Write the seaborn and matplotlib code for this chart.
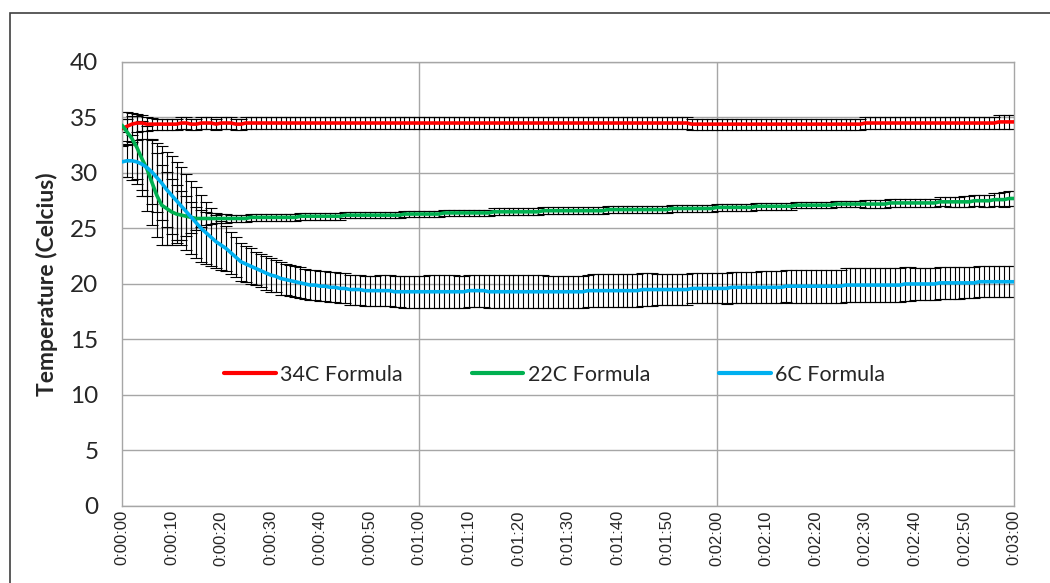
import matplotlib
matplotlib.use('Agg')
import pandas as pd
import matplotlib.pyplot as plt
import matplotlib.patches as mpatches
import seaborn as sns

# --- Data (one value per second) ---
seconds = list(range(0, 181))
tick_seconds = list(range(0, 181, 10))
tick_labels = ['0:00:00', '0:00:10', '0:00:20', '0:00:30', '0:00:40', '0:00:50',
               '0:01:00', '0:01:10', '0:01:20', '0:01:30', '0:01:40', '0:01:50',
               '0:02:00', '0:02:10', '0:02:20', '0:02:30', '0:02:40', '0:02:50',
               '0:03:00']
series_names = ['34C Formula', '22C Formula', '6C Formula']
series_colors = ['#FF0000', '#00B050', '#00B0F0']

temp_34c = [
    34.0, 34.2, 34.4, 34.5, 34.5, 34.4, 34.4, 34.4, 34.4, 34.4,
    34.4, 34.4, 34.5, 34.5, 34.4, 34.4, 34.5, 34.5, 34.5, 34.4,
    34.5, 34.5, 34.5, 34.4, 34.4, 34.5, 34.5, 34.5, 34.5, 34.5,
    34.5, 34.5, 34.5, 34.5, 34.5, 34.5, 34.5, 34.5, 34.5, 34.5,
    34.5, 34.5, 34.5, 34.5, 34.5, 34.5, 34.5, 34.5, 34.5, 34.5,
    34.5, 34.5, 34.5, 34.5, 34.5, 34.5, 34.5, 34.5, 34.5, 34.5,
    34.5, 34.5, 34.5, 34.5, 34.5, 34.5, 34.5, 34.5, 34.5, 34.5,
    34.5, 34.5, 34.5, 34.5, 34.5, 34.5, 34.5, 34.5, 34.5, 34.5,
    34.5, 34.5, 34.5, 34.5, 34.5, 34.5, 34.5, 34.5, 34.5, 34.5,
    34.5, 34.5, 34.5, 34.5, 34.5, 34.5, 34.5, 34.5, 34.5, 34.5,
    34.5, 34.5, 34.5, 34.5, 34.5, 34.5, 34.5, 34.5, 34.5, 34.5,
    34.5, 34.5, 34.5, 34.5, 34.5, 34.4, 34.4, 34.4, 34.4, 34.4,
    34.4, 34.4, 34.4, 34.4, 34.4, 34.4, 34.4, 34.4, 34.4, 34.4,
    34.4, 34.4, 34.4, 34.4, 34.4, 34.4, 34.4, 34.4, 34.4, 34.4,
    34.4, 34.4, 34.4, 34.4, 34.4, 34.4, 34.4, 34.4, 34.4, 34.4,
    34.5, 34.5, 34.5, 34.5, 34.5, 34.5, 34.5, 34.5, 34.5, 34.5,
    34.5, 34.5, 34.5, 34.5, 34.5, 34.5, 34.5, 34.5, 34.5, 34.5,
    34.5, 34.5, 34.5, 34.5, 34.5, 34.5, 34.5, 34.6, 34.6, 34.6,
    34.6]
err_34c = [
    1.5, 1.3, 1.0, 0.8, 0.7, 0.6, 0.55, 0.5, 0.5, 0.5,
    0.5, 0.5, 0.5, 0.5, 0.5, 0.5, 0.5, 0.5, 0.5, 0.5,
    0.5, 0.5, 0.5, 0.5, 0.5, 0.5, 0.5, 0.5, 0.5, 0.5,
    0.5, 0.5, 0.5, 0.5, 0.5, 0.5, 0.5, 0.5, 0.5, 0.5,
    0.5, 0.5, 0.5, 0.5, 0.5, 0.5, 0.5, 0.5, 0.5, 0.5,
    0.5, 0.5, 0.5, 0.5, 0.5, 0.5, 0.5, 0.5, 0.5, 0.5,
    0.5, 0.5, 0.5, 0.5, 0.5, 0.5, 0.5, 0.5, 0.5, 0.5,
    0.5, 0.5, 0.5, 0.5, 0.5, 0.5, 0.5, 0.5, 0.5, 0.5,
    0.5, 0.5, 0.5, 0.5, 0.5, 0.5, 0.5, 0.5, 0.5, 0.5,
    0.5, 0.5, 0.5, 0.5, 0.5, 0.5, 0.5, 0.5, 0.5, 0.5,
    0.5, 0.5, 0.5, 0.5, 0.5, 0.5, 0.5, 0.5, 0.5, 0.5,
    0.5, 0.5, 0.5, 0.5, 0.5, 0.5, 0.5, 0.5, 0.5, 0.5,
    0.5, 0.5, 0.5, 0.5, 0.5, 0.5, 0.5, 0.5, 0.5, 0.5,
    0.5, 0.5, 0.5, 0.5, 0.5, 0.5, 0.5, 0.5, 0.5, 0.5,
    0.5, 0.5, 0.5, 0.5, 0.5, 0.5, 0.5, 0.5, 0.5, 0.5,
    0.5, 0.5, 0.5, 0.5, 0.5, 0.5, 0.5, 0.5, 0.5, 0.5,
    0.5, 0.5, 0.5, 0.5, 0.5, 0.5, 0.5, 0.5, 0.5, 0.5,
    0.5, 0.5, 0.5, 0.5, 0.5, 0.55, 0.55, 0.6, 0.6, 0.6,
    0.6]

temp_22c = [
    34.3, 33.7, 33.1, 32.3, 31.3, 30.4, 29.2, 28.0, 27.1, 26.8,
    26.5, 26.3, 26.2, 26.1, 26.0, 25.9, 25.9, 25.9, 25.9, 25.9,
    25.9, 25.9, 25.9, 25.9, 25.9, 25.9, 26.0, 26.0, 26.0, 26.0,
    26.0, 26.0, 26.0, 26.0, 26.0, 26.0, 26.1, 26.1, 26.1, 26.1,
    26.1, 26.1, 26.1, 26.1, 26.1, 26.2, 26.2, 26.2, 26.2, 26.2,
    26.2, 26.2, 26.2, 26.2, 26.2, 26.2, 26.2, 26.3, 26.3, 26.3,
    26.3, 26.3, 26.3, 26.3, 26.3, 26.4, 26.4, 26.4, 26.4, 26.4,
    26.4, 26.4, 26.4, 26.4, 26.4, 26.5, 26.5, 26.5, 26.5, 26.5,
    26.5, 26.5, 26.5, 26.5, 26.5, 26.6, 26.6, 26.6, 26.6, 26.6,
    26.6, 26.6, 26.6, 26.6, 26.6, 26.6, 26.6, 26.6, 26.7, 26.7,
    26.7, 26.7, 26.7, 26.7, 26.7, 26.7, 26.7, 26.7, 26.7, 26.7,
    26.7, 26.8, 26.8, 26.8, 26.8, 26.8, 26.8, 26.8, 26.8, 26.8,
    26.9, 26.9, 26.9, 26.9, 26.9, 26.9, 26.9, 26.9, 27.0, 27.0,
    27.0, 27.0, 27.0, 27.0, 27.0, 27.0, 27.1, 27.1, 27.1, 27.1,
    27.1, 27.1, 27.1, 27.1, 27.2, 27.2, 27.2, 27.2, 27.2, 27.2,
    27.2, 27.2, 27.2, 27.2, 27.2, 27.3, 27.3, 27.3, 27.3, 27.3,
    27.3, 27.3, 27.3, 27.3, 27.3, 27.4, 27.4, 27.4, 27.4, 27.4,
    27.4, 27.4, 27.5, 27.5, 27.5, 27.5, 27.6, 27.6, 27.6, 27.7,
    27.7]
err_22c = [
    0.6, 1.2, 2.0, 2.8, 3.4, 3.8, 3.9, 3.8, 3.6, 3.3,
    3.0, 2.6, 2.2, 1.8, 1.4, 1.0, 0.8, 0.6, 0.5, 0.45,
    0.4, 0.4, 0.35, 0.35, 0.35, 0.35, 0.3, 0.3, 0.3, 0.3,
    0.3, 0.3, 0.3, 0.3, 0.3, 0.3, 0.3, 0.3, 0.3, 0.3,
    0.3, 0.3, 0.3, 0.3, 0.3, 0.3, 0.3, 0.3, 0.3, 0.3,
    0.3, 0.3, 0.3, 0.3, 0.3, 0.3, 0.3, 0.3, 0.3, 0.3,
    0.3, 0.3, 0.3, 0.3, 0.3, 0.3, 0.3, 0.3, 0.3, 0.3,
    0.3, 0.3, 0.3, 0.3, 0.3, 0.3, 0.3, 0.3, 0.3, 0.3,
    0.3, 0.3, 0.3, 0.3, 0.3, 0.3, 0.3, 0.3, 0.3, 0.3,
    0.3, 0.3, 0.3, 0.3, 0.3, 0.3, 0.3, 0.3, 0.3, 0.3,
    0.3, 0.3, 0.3, 0.3, 0.3, 0.3, 0.3, 0.3, 0.3, 0.3,
    0.3, 0.3, 0.3, 0.3, 0.3, 0.3, 0.3, 0.3, 0.3, 0.3,
    0.3, 0.3, 0.3, 0.3, 0.3, 0.3, 0.3, 0.3, 0.3, 0.3,
    0.3, 0.3, 0.3, 0.3, 0.3, 0.3, 0.3, 0.3, 0.3, 0.3,
    0.3, 0.3, 0.3, 0.3, 0.3, 0.3, 0.3, 0.3, 0.3, 0.3,
    0.35, 0.35, 0.35, 0.35, 0.35, 0.35, 0.35, 0.35, 0.35, 0.35,
    0.4, 0.4, 0.4, 0.4, 0.4, 0.4, 0.4, 0.45, 0.45, 0.45,
    0.5, 0.5, 0.5, 0.5, 0.55, 0.55, 0.6, 0.6, 0.65, 0.7,
    0.7]

temp_6c = [
    31.0, 31.1, 31.1, 31.0, 30.8, 30.5, 30.1, 29.6, 29.1, 28.5,
    28.0, 27.5, 27.0, 26.5, 26.0, 25.5, 25.0, 24.6, 24.2, 23.8,
    23.5, 23.2, 22.8, 22.4, 22.0, 21.8, 21.6, 21.4, 21.2, 21.0,
    20.8, 20.7, 20.5, 20.4, 20.3, 20.2, 20.1, 20.0, 19.9, 19.9,
    19.8, 19.8, 19.7, 19.7, 19.6, 19.6, 19.5, 19.5, 19.5, 19.4,
    19.4, 19.4, 19.4, 19.4, 19.4, 19.3, 19.3, 19.3, 19.3, 19.3,
    19.3, 19.3, 19.3, 19.3, 19.3, 19.3, 19.3, 19.3, 19.3, 19.3,
    19.4, 19.4, 19.4, 19.4, 19.3, 19.3, 19.3, 19.3, 19.3, 19.3,
    19.3, 19.3, 19.3, 19.3, 19.3, 19.3, 19.3, 19.3, 19.3, 19.3,
    19.3, 19.3, 19.3, 19.3, 19.4, 19.4, 19.4, 19.4, 19.4, 19.4,
    19.4, 19.4, 19.4, 19.4, 19.4, 19.5, 19.5, 19.5, 19.5, 19.5,
    19.5, 19.5, 19.5, 19.5, 19.5, 19.6, 19.6, 19.6, 19.6, 19.6,
    19.6, 19.6, 19.6, 19.7, 19.7, 19.7, 19.7, 19.7, 19.7, 19.7,
    19.7, 19.7, 19.7, 19.7, 19.8, 19.8, 19.8, 19.8, 19.8, 19.8,
    19.8, 19.8, 19.8, 19.8, 19.8, 19.8, 19.9, 19.9, 19.9, 19.9,
    19.9, 19.9, 19.9, 19.9, 19.9, 19.9, 19.9, 19.9, 20.0, 20.0,
    20.0, 20.0, 20.0, 20.0, 20.0, 20.1, 20.1, 20.1, 20.1, 20.1,
    20.1, 20.1, 20.1, 20.2, 20.2, 20.2, 20.2, 20.2, 20.2, 20.2,
    20.2]
err_6c = [
    1.4, 1.5, 1.7, 2.0, 2.3, 2.6, 2.9, 3.1, 3.3, 3.4,
    3.5, 3.5, 3.5, 3.4, 3.3, 3.2, 3.0, 2.8, 2.6, 2.4,
    2.2, 2.0, 1.9, 1.8, 1.7, 1.6, 1.6, 1.5, 1.5, 1.5,
    1.5, 1.45, 1.45, 1.4, 1.4, 1.4, 1.4, 1.35, 1.35, 1.35,
    1.35, 1.35, 1.35, 1.35, 1.35, 1.35, 1.35, 1.35, 1.35, 1.35,
    1.35, 1.35, 1.4, 1.4, 1.4, 1.4, 1.4, 1.45, 1.45, 1.45,
    1.45, 1.45, 1.5, 1.5, 1.5, 1.5, 1.5, 1.5, 1.45, 1.45,
    1.45, 1.45, 1.45, 1.45, 1.5, 1.5, 1.5, 1.5, 1.5, 1.5,
    1.5, 1.5, 1.5, 1.5, 1.5, 1.5, 1.45, 1.45, 1.45, 1.45,
    1.45, 1.45, 1.45, 1.45, 1.45, 1.5, 1.5, 1.5, 1.5, 1.5,
    1.5, 1.5, 1.5, 1.5, 1.5, 1.45, 1.45, 1.45, 1.4, 1.4,
    1.4, 1.4, 1.4, 1.4, 1.4, 1.35, 1.35, 1.35, 1.35, 1.35,
    1.35, 1.35, 1.4, 1.4, 1.4, 1.4, 1.4, 1.4, 1.4, 1.45,
    1.45, 1.45, 1.45, 1.45, 1.45, 1.5, 1.5, 1.5, 1.5, 1.5,
    1.5, 1.5, 1.5, 1.5, 1.5, 1.5, 1.5, 1.5, 1.5, 1.5,
    1.5, 1.5, 1.5, 1.5, 1.5, 1.5, 1.5, 1.5, 1.5, 1.5,
    1.45, 1.45, 1.45, 1.45, 1.45, 1.45, 1.45, 1.45, 1.45, 1.45,
    1.4, 1.4, 1.4, 1.4, 1.4, 1.4, 1.4, 1.4, 1.4, 1.4,
    1.4]

# long-form table for seaborn
means = [temp_34c, temp_22c, temp_6c]
errs = [err_34c, err_22c, err_6c]
frames = []
for name, m, e in zip(series_names, means, errs):
    frames.append(pd.DataFrame({'t': seconds, 'temp': m, 'err': e, 'formula': name}))
df = pd.concat(frames, ignore_index=True)

# --- Plot ---
sns.set_style('white')
plt.rcParams['font.family'] = ['Lato', 'DejaVu Sans']

fig = plt.figure(figsize=(10.5, 5.83), dpi=100)
ax = fig.add_axes([0.1162, 0.1321, 0.8495, 0.7616])

# black error bars under the coloured lines
for name in series_names:
    d = df[df['formula'] == name]
    ax.errorbar(d['t'], d['temp'], yerr=d['err'], fmt='none', ecolor='black',
                elinewidth=0.8, capsize=4, capthick=0.8, zorder=2)

sns.lineplot(data=df, x='t', y='temp', hue='formula', palette=series_colors,
             linewidth=2.6, ax=ax, zorder=3, legend=True)

ax.set_xlim(0, 180)
ax.set_ylim(0, 40)
ax.set_yticks(range(0, 41, 5))
ax.set_xticks(tick_seconds)
ax.set_xticklabels(tick_labels, rotation=90, fontfamily='Liberation Sans', fontsize=12)
ax.set_xticks(range(0, 181, 30), minor=True)
ax.tick_params(axis='y', labelsize=17.5, length=0, pad=17)
ax.tick_params(axis='x', which='major', length=0, pad=3)
ax.tick_params(axis='x', which='minor', length=3, color='#a6a6a6', direction='out')

grid_col = '#a6a6a6'
ax.yaxis.grid(True, color=grid_col, linewidth=1)
for xv in [60, 120]:
    ax.axvline(xv, color=grid_col, linewidth=1, zorder=1)
for sp in ax.spines.values():
    sp.set_color(grid_col)
    sp.set_linewidth(1)

ax.set_xlabel('')
ax.set_ylabel('Temperature (Celcius)', fontsize=16.5, fontweight='bold')
ax.yaxis.set_label_coords(-0.072, 0.5)

leg = ax.legend(ncol=3, loc='center', bbox_to_anchor=(0.485, 0.295), frameon=False,
                fontsize=15.5, handlelength=2.4, handletextpad=0.2, columnspacing=3.2)
for line in leg.get_lines():
    line.set_linewidth(3)

# outer chart border
fig.patches.append(mpatches.Rectangle((10 / 1050, -0.1), 1.2, 1.1 - 13 / 583,
                                      transform=fig.transFigure, fill=False,
                                      edgecolor='#404040', linewidth=1.2))

fig.savefig('out.png', dpi=100)
